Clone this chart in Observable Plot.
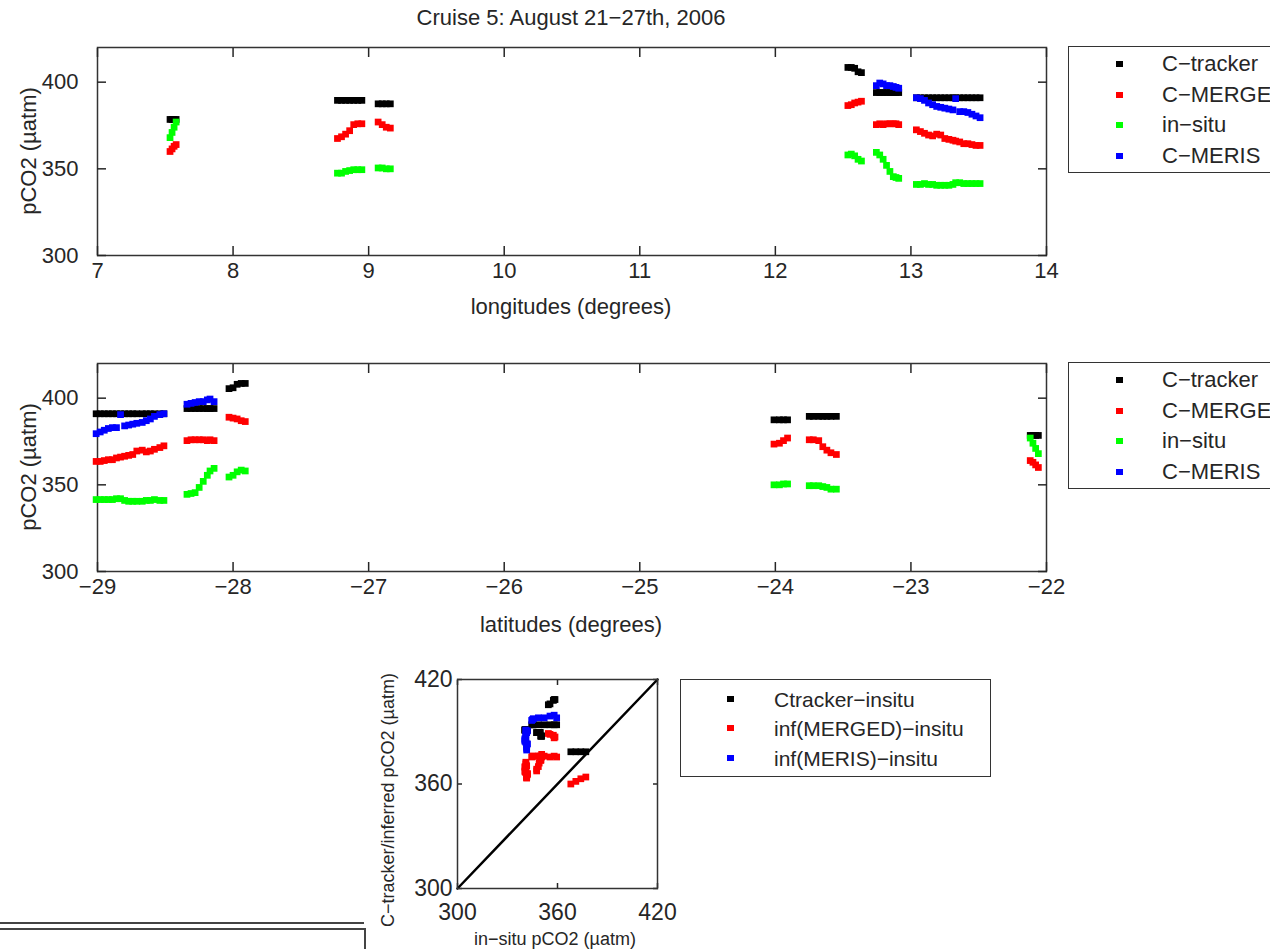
<!DOCTYPE html>
<html>
<head>
<meta charset="utf-8">
<script src="https://cdn.jsdelivr.net/npm/d3@7"></script>
<script src="https://cdn.jsdelivr.net/npm/@observablehq/plot@0.6"></script>
<style>
  body { margin: 0; background: #fff; }
  #root { position: relative; width: 1286px; height: 949px; overflow: hidden;
          font-family: "Liberation Sans", Arial, sans-serif; color: #262626; background: #fff; }
  .lbl { position: absolute; white-space: nowrap; line-height: 1; }
  .legwrap { position: absolute; overflow: hidden; }
  .legbox { position: absolute; left: 0; top: 0; border: 1.5px solid #333; box-sizing: border-box; background: #fff; }
  .legrow { position: absolute; white-space: nowrap; line-height: 1; }
  .legmark { position: absolute; width: 7px; height: 6px; }
  .rule { position: absolute; background: #444; }
</style>
</head>
<body>
<div id="root"></div>
<script>
// ---------------- data ----------------
const lon = [7.535, 7.55, 7.565, 7.58,
  8.77, 8.80, 8.83, 8.86, 8.89, 8.92, 8.95,
  9.07, 9.10, 9.13, 9.16,
  12.535, 12.56, 12.585, 12.61, 12.635,
  12.745, 12.77, 12.795, 12.82, 12.845, 12.87, 12.89, 12.91,
  13.04, 13.07, 13.10, 13.13, 13.16, 13.19, 13.22, 13.25, 13.28, 13.31, 13.33, 13.36, 13.39, 13.42, 13.45, 13.48, 13.51];
const lat = [-22.06, -22.08, -22.10, -22.12,
  -23.55, -23.59, -23.62, -23.65, -23.68, -23.72, -23.75,
  -23.91, -23.94, -23.97, -24.01,
  -27.91, -27.94, -27.97, -28.00, -28.03,
  -28.14, -28.17, -28.19, -28.22, -28.25, -28.28, -28.31, -28.34,
  -28.51, -28.54, -28.58, -28.61, -28.64, -28.67, -28.71, -28.74, -28.77, -28.80, -28.83, -28.86, -28.89, -28.92, -28.95, -28.98, -29.01];
const ctracker = [378.5, 378.5, 378.5, 378.5,
  389.5, 389.5, 389.5, 389.5, 389.5, 389.5, 389.5,
  387.5, 387.5, 387.5, 387.5,
  408.5, 408.5, 408, 406, 405.5,
  394, 394, 394, 394, 394, 394, 394, 394,
  391, 391, 391, 391, 391, 391, 391, 391, 391, 391, 391, 391, 391, 391, 391, 391, 391];
const merged = [360, 361.5, 363, 364,
  367.5, 368.5, 370, 372, 375.5, 376, 376,
  377, 375.5, 374, 373.5,
  386.5, 387, 388, 388.5, 389,
  375.5, 376, 375.5, 376, 376, 376, 376, 375.5,
  372.5, 371.5, 370.5, 369.5, 369, 370, 369.5, 367.5, 367, 366.5, 366, 365.5, 364.5, 364.5, 364, 363.5, 363.5];
const insitu = [368, 371, 374, 377,
  347.5, 347.5, 348.5, 349, 349.5, 349.5, 349.5,
  350.5, 350.5, 350, 350,
  358, 358.5, 357.5, 355.5, 354.5,
  359.5, 358, 355.5, 352, 348.5, 345.5, 345, 344.5,
  341, 341, 341.5, 341, 341, 340.5, 340.5, 340.5, 340.5, 341, 342, 342, 341.5, 341.5, 341.5, 341.5, 341.5];
const meris = [null, null, null, null,
  null, null, null, null, null, null, null,
  null, null, null, null,
  null, null, null, null, null,
  398, 399.5, 399, 398, 398, 397.5, 397, 396.5,
  391, 390.5, 389.5, 388, 387, 386, 385.5, 385, 384.5, 384, 390.5, 383, 383, 382.5, 381.5, 380.5, 379.5];

const seriesNames = ["C\u2212tracker", "C\u2212MERGED", "in\u2212situ", "C\u2212MERIS"];
const seriesColors = ["#000000", "#ff0000", "#00ff00", "#0000ff"];
const scatterNames = ["Ctracker\u2212insitu", "inf(MERGED)\u2212insitu", "inf(MERIS)\u2212insitu"];
const scatterColors = ["#000000", "#ff0000", "#0000ff"];
const lonTicks = [7, 8, 9, 10, 11, 12, 13, 14];
const latTicks = [-29, -28, -27, -26, -25, -24, -23, -22];
const pco2Ticks = [300, 350, 400];
const scatterTicks = [300, 360, 420];
const oneToOne = [300, 420];
const titleText = "Cruise 5: August 21\u221227th, 2006";

// ---------------- tables built from the arrays ----------------
const seriesValues = [ctracker, merged, insitu, meris];
const trackRows = [];
seriesValues.forEach((vals, s) => {
  vals.forEach((v, i) => {
    if (v != null) trackRows.push({lon: lon[i], lat: lat[i], value: v, series: seriesNames[s]});
  });
});
const scatterRows = [];
[ctracker, merged, meris].forEach((vals, s) => {
  vals.forEach((v, i) => {
    if (v != null && insitu[i] != null) scatterRows.push({x: insitu[i], y: v, series: scatterNames[s]});
  });
});

// ---------------- helpers ----------------
const root = document.getElementById("root");
const FONT = '"Liberation Sans", Arial, sans-serif';
const intFmt = d3.format("d");
const noText = () => "";
function place(el, left, top) {
  const w = document.createElement("div");
  w.style.cssText = `position:absolute;left:${left}px;top:${top}px;`;
  w.appendChild(el);
  root.appendChild(w);
}
function label(text, x, y, size, rotate) {
  const d = document.createElement("div");
  d.className = "lbl";
  d.textContent = text;
  d.style.left = x + "px";
  d.style.top = y + "px";
  d.style.fontSize = size + "px";
  d.style.transform = "translate(-50%,-50%)" + (rotate ? " rotate(-90deg)" : "");
  root.appendChild(d);
}
function legend(names, colors, left, top, width, height, boxWidth, rows, markX, textX, size) {
  const wrap = document.createElement("div");
  wrap.className = "legwrap";
  wrap.style.cssText = `left:${left}px;top:${top}px;width:${width}px;height:${height}px;`;
  const box = document.createElement("div");
  box.className = "legbox";
  box.style.width = boxWidth + "px";
  box.style.height = height + "px";
  wrap.appendChild(box);
  names.forEach((n, i) => {
    const m = document.createElement("div");
    m.className = "legmark";
    m.style.left = (markX - 3.5) + "px";
    m.style.top = (rows[i] - 3) + "px";
    m.style.background = colors[i];
    wrap.appendChild(m);
    const t = document.createElement("div");
    t.className = "legrow";
    t.textContent = n;
    t.style.left = textX + "px";
    t.style.top = rows[i] + "px";
    t.style.fontSize = size + "px";
    t.style.transform = "translateY(-50%)";
    wrap.appendChild(t);
  });
  root.appendChild(wrap);
}

function trackPanel(xKey, xDomain, xTicks) {
  return Plot.plot({
    width: 1060, height: 300,
    marginLeft: 97, marginRight: 14, marginTop: 17, marginBottom: 75,
    style: {fontFamily: FONT, fontSize: "22px", color: "#262626", background: "transparent", overflow: "visible"},
    x: {domain: xDomain},
    y: {domain: [300, 420]},
    color: {domain: seriesNames, range: seriesColors},
    marks: [
      Plot.frame({stroke: "#333", strokeWidth: 1.5}),
      Plot.axisX({ticks: xTicks, anchor: "bottom", tickSize: -9, tickPadding: 16, tickFormat: intFmt, label: null, strokeWidth: 1.5}),
      Plot.axisX({ticks: xTicks, anchor: "top", tickSize: -9, tickFormat: noText, label: null, strokeWidth: 1.5}),
      Plot.axisY({ticks: pco2Ticks, anchor: "left", tickSize: -9, tickPadding: 28, tickFormat: intFmt, label: null, strokeWidth: 1.5}),
      Plot.axisY({ticks: pco2Ticks, anchor: "right", tickSize: -9, tickFormat: noText, label: null, strokeWidth: 1.5}),
      Plot.dot(trackRows, {x: xKey, y: "value", fill: "series", symbol: "square", r: 3.8})
    ]
  });
}

// ---------------- title ----------------
label(titleText, 571, 18, 22, false);

// ---------------- panel 1: longitude ----------------
place(trackPanel("lon", [7, 14], lonTicks), 0, 30);
label("pCO2 (\u00b5atm)", 29, 151, 22, true);
label("longitudes (degrees)", 571, 307, 22, false);
legend(seriesNames, seriesColors, 1068, 46, 202, 127, 300, [18, 49, 79, 110], 51, 94, 22);

// ---------------- panel 2: latitude ----------------
place(trackPanel("lat", [-29, -22], latTicks), 0, 346);
label("pCO2 (\u00b5atm)", 29, 467, 22, true);
label("latitudes (degrees)", 571, 625, 22, false);
legend(seriesNames, seriesColors, 1068, 362, 202, 127, 300, [18, 49, 79, 110], 51, 94, 22);

// ---------------- panel 3: scatter ----------------
const p3 = Plot.plot({
  width: 300, height: 260,
  marginLeft: 77, marginRight: 23, marginTop: 19, marginBottom: 32,
  style: {fontFamily: FONT, fontSize: "23px", color: "#262626", background: "transparent", overflow: "visible"},
  x: {domain: [300, 420]},
  y: {domain: [300, 420]},
  color: {domain: scatterNames, range: scatterColors},
  marks: [
    Plot.axisX({ticks: scatterTicks, anchor: "bottom", tickSize: -5, tickPadding: 20, tickFormat: intFmt, label: null, strokeWidth: 1.5}),
    Plot.axisX({ticks: scatterTicks, anchor: "top", tickSize: -5, tickFormat: noText, label: null, strokeWidth: 1.5}),
    Plot.axisY({ticks: scatterTicks, anchor: "left", tickSize: -5, tickPadding: 10, tickFormat: intFmt, label: null, strokeWidth: 1.5}),
    Plot.axisY({ticks: scatterTicks, anchor: "right", tickSize: -5, tickFormat: noText, label: null, strokeWidth: 1.5}),
    Plot.line(oneToOne, {x: d => d, y: d => d, stroke: "#000", strokeWidth: 2.5}),
    Plot.dot(scatterRows, {x: "x", y: "y", fill: "series", symbol: "square", r: 3.8}),
    Plot.frame({stroke: "#333", strokeWidth: 1.5})
  ]
});
place(p3, 380, 660);
label("C\u2212tracker/inferred pCO2 (\u00b5atm)", 388, 800, 18, true);
label("in\u2212situ pCO2 (\u00b5atm)", 555, 939, 18, false);
legend(scatterNames, scatterColors, 680, 679, 311, 98, 311, [20, 49, 79], 50, 94, 21);

// ---------------- cropped frame remnants at bottom-left ----------------
[[0, 922, 364, 2], [0, 928, 366, 2], [364, 928, 2, 21]].forEach(([l, t, w, h]) => {
  const r = document.createElement("div");
  r.className = "rule";
  r.style.cssText += `left:${l}px;top:${t}px;width:${w}px;height:${h}px;`;
  root.appendChild(r);
});
</script>
</body>
</html>
